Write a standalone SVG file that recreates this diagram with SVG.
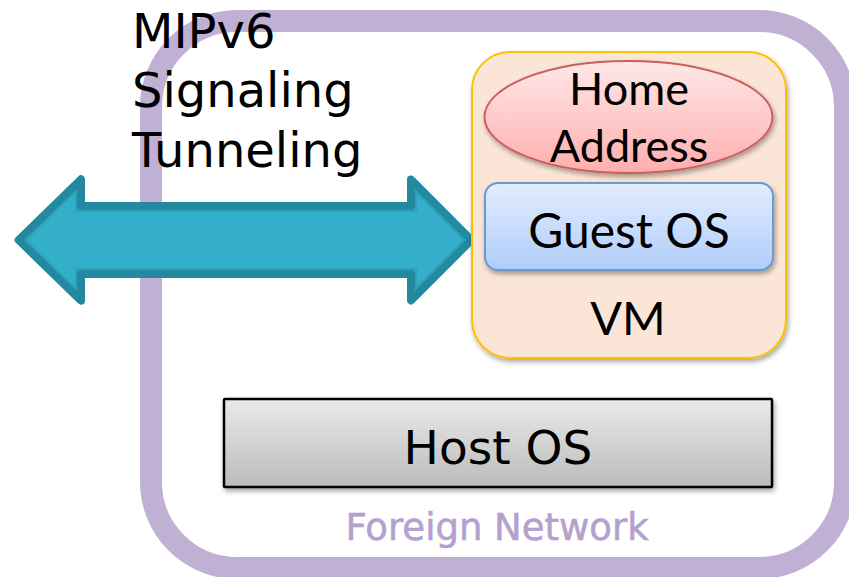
<svg xmlns="http://www.w3.org/2000/svg" width="849" height="577" viewBox="0 0 849 577">
<defs>
<style>
.lg{font-family:"DejaVu Sans","Liberation Sans",sans-serif;fill:#000}
.cb{font-family:Lato,"Open Sans",sans-serif;fill:#000}
</style>
<linearGradient id="gRed" x1="0" y1="0" x2="0" y2="1"><stop offset="0" stop-color="#FFE8E8"/><stop offset="1" stop-color="#FFAEAE"/></linearGradient>
<linearGradient id="gBlue" x1="0" y1="0" x2="0" y2="1"><stop offset="0" stop-color="#E2EDFF"/><stop offset="1" stop-color="#B0CDFA"/></linearGradient>
<linearGradient id="gGray" x1="0" y1="0" x2="0" y2="1"><stop offset="0" stop-color="#EAEAEA"/><stop offset="1" stop-color="#BBBBBB"/></linearGradient>
<filter id="sh" x="-10%" y="-10%" width="125%" height="130%"><feDropShadow dx="1.5" dy="3" stdDeviation="2.5" flood-color="#000" flood-opacity="0.35"/></filter>
</defs>
<g id="foreign-network">
<rect x="151" y="21" width="694" height="547" rx="86" ry="86" fill="#FFFFFF" stroke="#C0B1D4" stroke-width="22"/>
<text class="lg" x="497" y="540" font-size="37" text-anchor="middle" style="fill:#B5A1CE;stroke:#B5A1CE;stroke-width:0.6">Foreign Network</text>
</g>
<g id="connectors">
<g id="mipv6-arrow">
<polygon points="18.6,240 81,179.3 81,206 411,206 411,179.6 471.4,240 411,300.4 411,274 81,274 81,300.7" fill="#34AFC9" stroke="#22899E" stroke-width="8" stroke-linejoin="round"/>
<polygon points="25.7,240 76,191.1 76,211 416,211 416,191.7 464.3,240 416,288.3 416,269 76,269 76,288.9" fill="none" stroke="#2EA0B8" stroke-width="2" stroke-linejoin="round"/>
</g>
</g>
<g id="mipv6-label">
<text class="lg" font-size="48"><tspan x="132" y="48">MIPv6</tspan><tspan x="132" y="107">Signaling</tspan><tspan x="132" y="167">Tunneling</tspan></text>
</g>
<g id="vm">
<rect x="472" y="52" width="314" height="306" rx="38" ry="38" fill="#FBE5D6" stroke="#FFC000" stroke-width="2" filter="url(#sh)"/>
<text class="cb" x="628" y="335" font-size="47" text-anchor="middle">VM</text>
</g>
<g id="home-address">
<ellipse cx="628.5" cy="117" rx="144" ry="56" fill="url(#gRed)" stroke="#CB5F5B" stroke-width="2" filter="url(#sh)"/>
<text class="cb" font-size="45" text-anchor="middle"><tspan x="629" y="105">Home</tspan><tspan x="629" y="162">Address</tspan></text>
</g>
<g id="guest-os">
<rect x="485" y="183" width="288" height="87" rx="13" ry="13" fill="url(#gBlue)" stroke="#6A9BD0" stroke-width="2" filter="url(#sh)"/>
<text class="cb" x="629" y="248" font-size="48" text-anchor="middle">Guest OS</text>
</g>
<g id="host-os">
<rect x="224" y="399" width="548" height="88" rx="1" fill="url(#gGray)" stroke="#000" stroke-width="2.5" filter="url(#sh)"/>
<text class="lg" x="498" y="464" font-size="47" text-anchor="middle">Host OS</text>
</g>
</svg>
